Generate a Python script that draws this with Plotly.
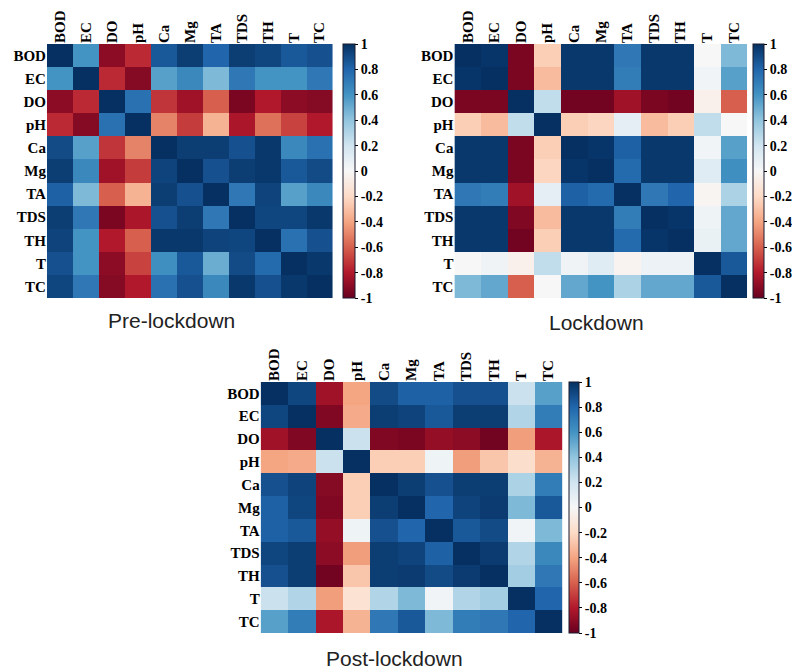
import plotly.graph_objects as go

labels = ["BOD", "EC", "DO", "pH", "Ca", "Mg", "TA", "TDS", "TH", "T", "TC"]

pre_lockdown = [
    [1.00, 0.60, -0.90, -0.75, 0.85, 0.95, 0.80, 0.95, 0.92, 0.85, 0.88],
    [0.60, 1.00, -0.75, -0.92, 0.55, 0.65, 0.45, 0.72, 0.60, 0.60, 0.72],
    [-0.90, -0.75, 1.00, 0.75, -0.72, -0.85, -0.60, -0.95, -0.80, -0.90, -0.92],
    [-0.75, -0.92, 0.75, 1.00, -0.50, -0.70, -0.35, -0.82, -0.55, -0.68, -0.80],
    [0.90, 0.55, -0.72, -0.50, 1.00, 0.95, 0.95, 0.88, 0.97, 0.65, 0.75],
    [0.95, 0.65, -0.85, -0.70, 0.93, 1.00, 0.88, 0.95, 0.97, 0.85, 0.90],
    [0.82, 0.45, -0.60, -0.35, 0.95, 0.88, 1.00, 0.72, 0.93, 0.55, 0.65],
    [0.95, 0.72, -0.95, -0.82, 0.88, 0.95, 0.72, 1.00, 0.92, 0.92, 0.97],
    [0.93, 0.60, -0.80, -0.60, 0.97, 0.97, 0.93, 0.92, 1.00, 0.75, 0.88],
    [0.88, 0.60, -0.90, -0.68, 0.62, 0.85, 0.50, 0.90, 0.78, 1.00, 0.97],
    [0.92, 0.72, -0.92, -0.80, 0.75, 0.88, 0.65, 0.97, 0.88, 0.97, 1.00],
]

lockdown = [
    [1.00, 0.98, -0.95, -0.25, 0.97, 0.97, 0.72, 0.97, 0.97, 0.00, 0.45],
    [0.98, 1.00, -0.95, -0.32, 0.97, 0.97, 0.70, 0.97, 0.97, 0.03, 0.55],
    [-0.95, -0.95, 1.00, 0.25, -0.97, -0.97, -0.85, -0.95, -0.97, -0.05, -0.60],
    [-0.25, -0.32, 0.25, 1.00, -0.25, -0.22, 0.10, -0.32, -0.25, 0.25, 0.00],
    [0.97, 0.97, -0.95, -0.25, 1.00, 0.98, 0.82, 0.97, 0.97, 0.03, 0.55],
    [0.97, 0.97, -0.95, -0.22, 0.98, 1.00, 0.78, 0.97, 0.97, 0.12, 0.62],
    [0.72, 0.70, -0.85, 0.10, 0.82, 0.78, 1.00, 0.72, 0.80, -0.02, 0.32],
    [0.97, 0.97, -0.93, -0.32, 0.97, 0.97, 0.70, 1.00, 0.98, 0.05, 0.52],
    [0.97, 0.97, -0.97, -0.25, 0.97, 0.97, 0.78, 0.98, 1.00, 0.07, 0.52],
    [0.00, 0.04, -0.05, 0.25, 0.04, 0.12, -0.03, 0.06, 0.06, 1.00, 0.85],
    [0.45, 0.52, -0.60, 0.00, 0.52, 0.60, 0.32, 0.52, 0.52, 0.85, 1.00],
]

post_lockdown = [
    [1.00, 0.92, -0.85, -0.40, 0.90, 0.82, 0.82, 0.88, 0.88, 0.22, 0.55],
    [0.92, 1.00, -0.93, -0.38, 0.95, 0.93, 0.85, 0.95, 0.95, 0.30, 0.70],
    [-0.85, -0.93, 1.00, 0.22, -0.93, -0.95, -0.88, -0.90, -0.97, -0.42, -0.82],
    [-0.40, -0.38, 0.22, 1.00, -0.25, -0.25, 0.05, -0.42, -0.28, -0.18, -0.35],
    [0.88, 0.93, -0.92, -0.25, 1.00, 0.95, 0.88, 0.95, 0.95, 0.32, 0.70],
    [0.82, 0.92, -0.93, -0.25, 0.95, 1.00, 0.80, 0.93, 0.96, 0.45, 0.85],
    [0.82, 0.85, -0.88, 0.05, 0.88, 0.80, 1.00, 0.85, 0.90, 0.03, 0.45],
    [0.92, 0.95, -0.90, -0.42, 0.95, 0.93, 0.82, 1.00, 0.96, 0.30, 0.65],
    [0.88, 0.95, -0.97, -0.28, 0.95, 0.96, 0.90, 0.96, 1.00, 0.35, 0.72],
    [0.22, 0.30, -0.42, -0.15, 0.30, 0.45, 0.03, 0.30, 0.35, 1.00, 0.80],
    [0.55, 0.70, -0.82, -0.35, 0.72, 0.85, 0.45, 0.70, 0.72, 0.80, 1.00],
]

titles = ["Pre-lockdown", "Lockdown", "Post-lockdown"]
cbar_ticks = [1, 0.8, 0.6, 0.4, 0.2, 0, -0.2, -0.4, -0.6, -0.8, -1]

W, H = 792, 672
colorscale = [
    [0.0, "#67001f"], [0.1, "#b2182b"], [0.2, "#d6604d"], [0.3, "#f4a582"],
    [0.4, "#fddbc7"], [0.5, "#f7f7f7"], [0.6, "#d1e5f0"], [0.7, "#92c5de"],
    [0.8, "#4393c3"], [0.9, "#2166ac"], [1.0, "#053061"],
]

# pixel boxes: (x0, x1, y0, y1) heatmap; colorbar (x0, thickness); title (x, y)
panels = [
    dict(z=pre_lockdown, box=(47, 333, 44, 298), cb=(343, 12), title=(172, 320)),
    dict(z=lockdown, box=(455, 748, 44, 298), cb=(753, 11), title=(597, 322)),
    dict(z=post_lockdown, box=(261, 563, 382, 633), cb=(569, 10), title=(395, 658)),
]

fig = go.Figure()
tickfont = dict(family="Liberation Serif", size=15, color="black", weight="bold")

for i, (p, ttl) in enumerate(zip(panels, titles)):
    n = "" if i == 0 else str(i + 1)
    x0, x1, y0, y1 = p["box"]
    cbx, cbt = p["cb"]
    fig.add_trace(go.Heatmap(
        z=p["z"], x=labels, y=labels,
        xaxis="x" + n, yaxis="y" + n,
        zmin=-1, zmax=1, colorscale=colorscale,
        hoverongaps=False,
        colorbar=dict(
            x=cbx / W, xanchor="left", xpad=0, ypad=0,
            y=1 - (y0 + y1) / 2 / H, yanchor="middle",
            len=(y1 - y0), lenmode="pixels",
            thickness=cbt, thicknessmode="pixels",
            outlinecolor="#1a1a2e", outlinewidth=1,
            tickvals=cbar_ticks, ticktext=[("%g" % v) for v in cbar_ticks],
            ticks="outside", ticklen=3, tickcolor="black",
            tickfont=dict(family="Liberation Serif", size=14, color="black", weight="bold"),
        ),
    ))
    fig.layout["xaxis" + n] = dict(
        domain=[x0 / W, x1 / W], anchor="y" + n, side="top",
        tickangle=-90, tickfont=tickfont, showgrid=False, zeroline=False,
        ticks="", showline=False,
    )
    fig.layout["yaxis" + n] = dict(
        domain=[1 - y1 / H, 1 - y0 / H], anchor="x" + n,
        autorange="reversed", tickfont=tickfont, showgrid=False,
        zeroline=False, ticks="", showline=False,
    )
    tx, ty = p["title"]
    fig.add_annotation(
        text=ttl, x=tx / W, y=1 - ty / H, xref="paper", yref="paper",
        xanchor="center", yanchor="middle", showarrow=False,
        font=dict(family="Liberation Sans", size=21, color="#222222"),
    )

fig.update_layout(
    width=W, height=H, margin=dict(l=0, r=0, t=0, b=0),
    paper_bgcolor="white", plot_bgcolor="white", showlegend=False,
)

fig.write_html("out.html")
